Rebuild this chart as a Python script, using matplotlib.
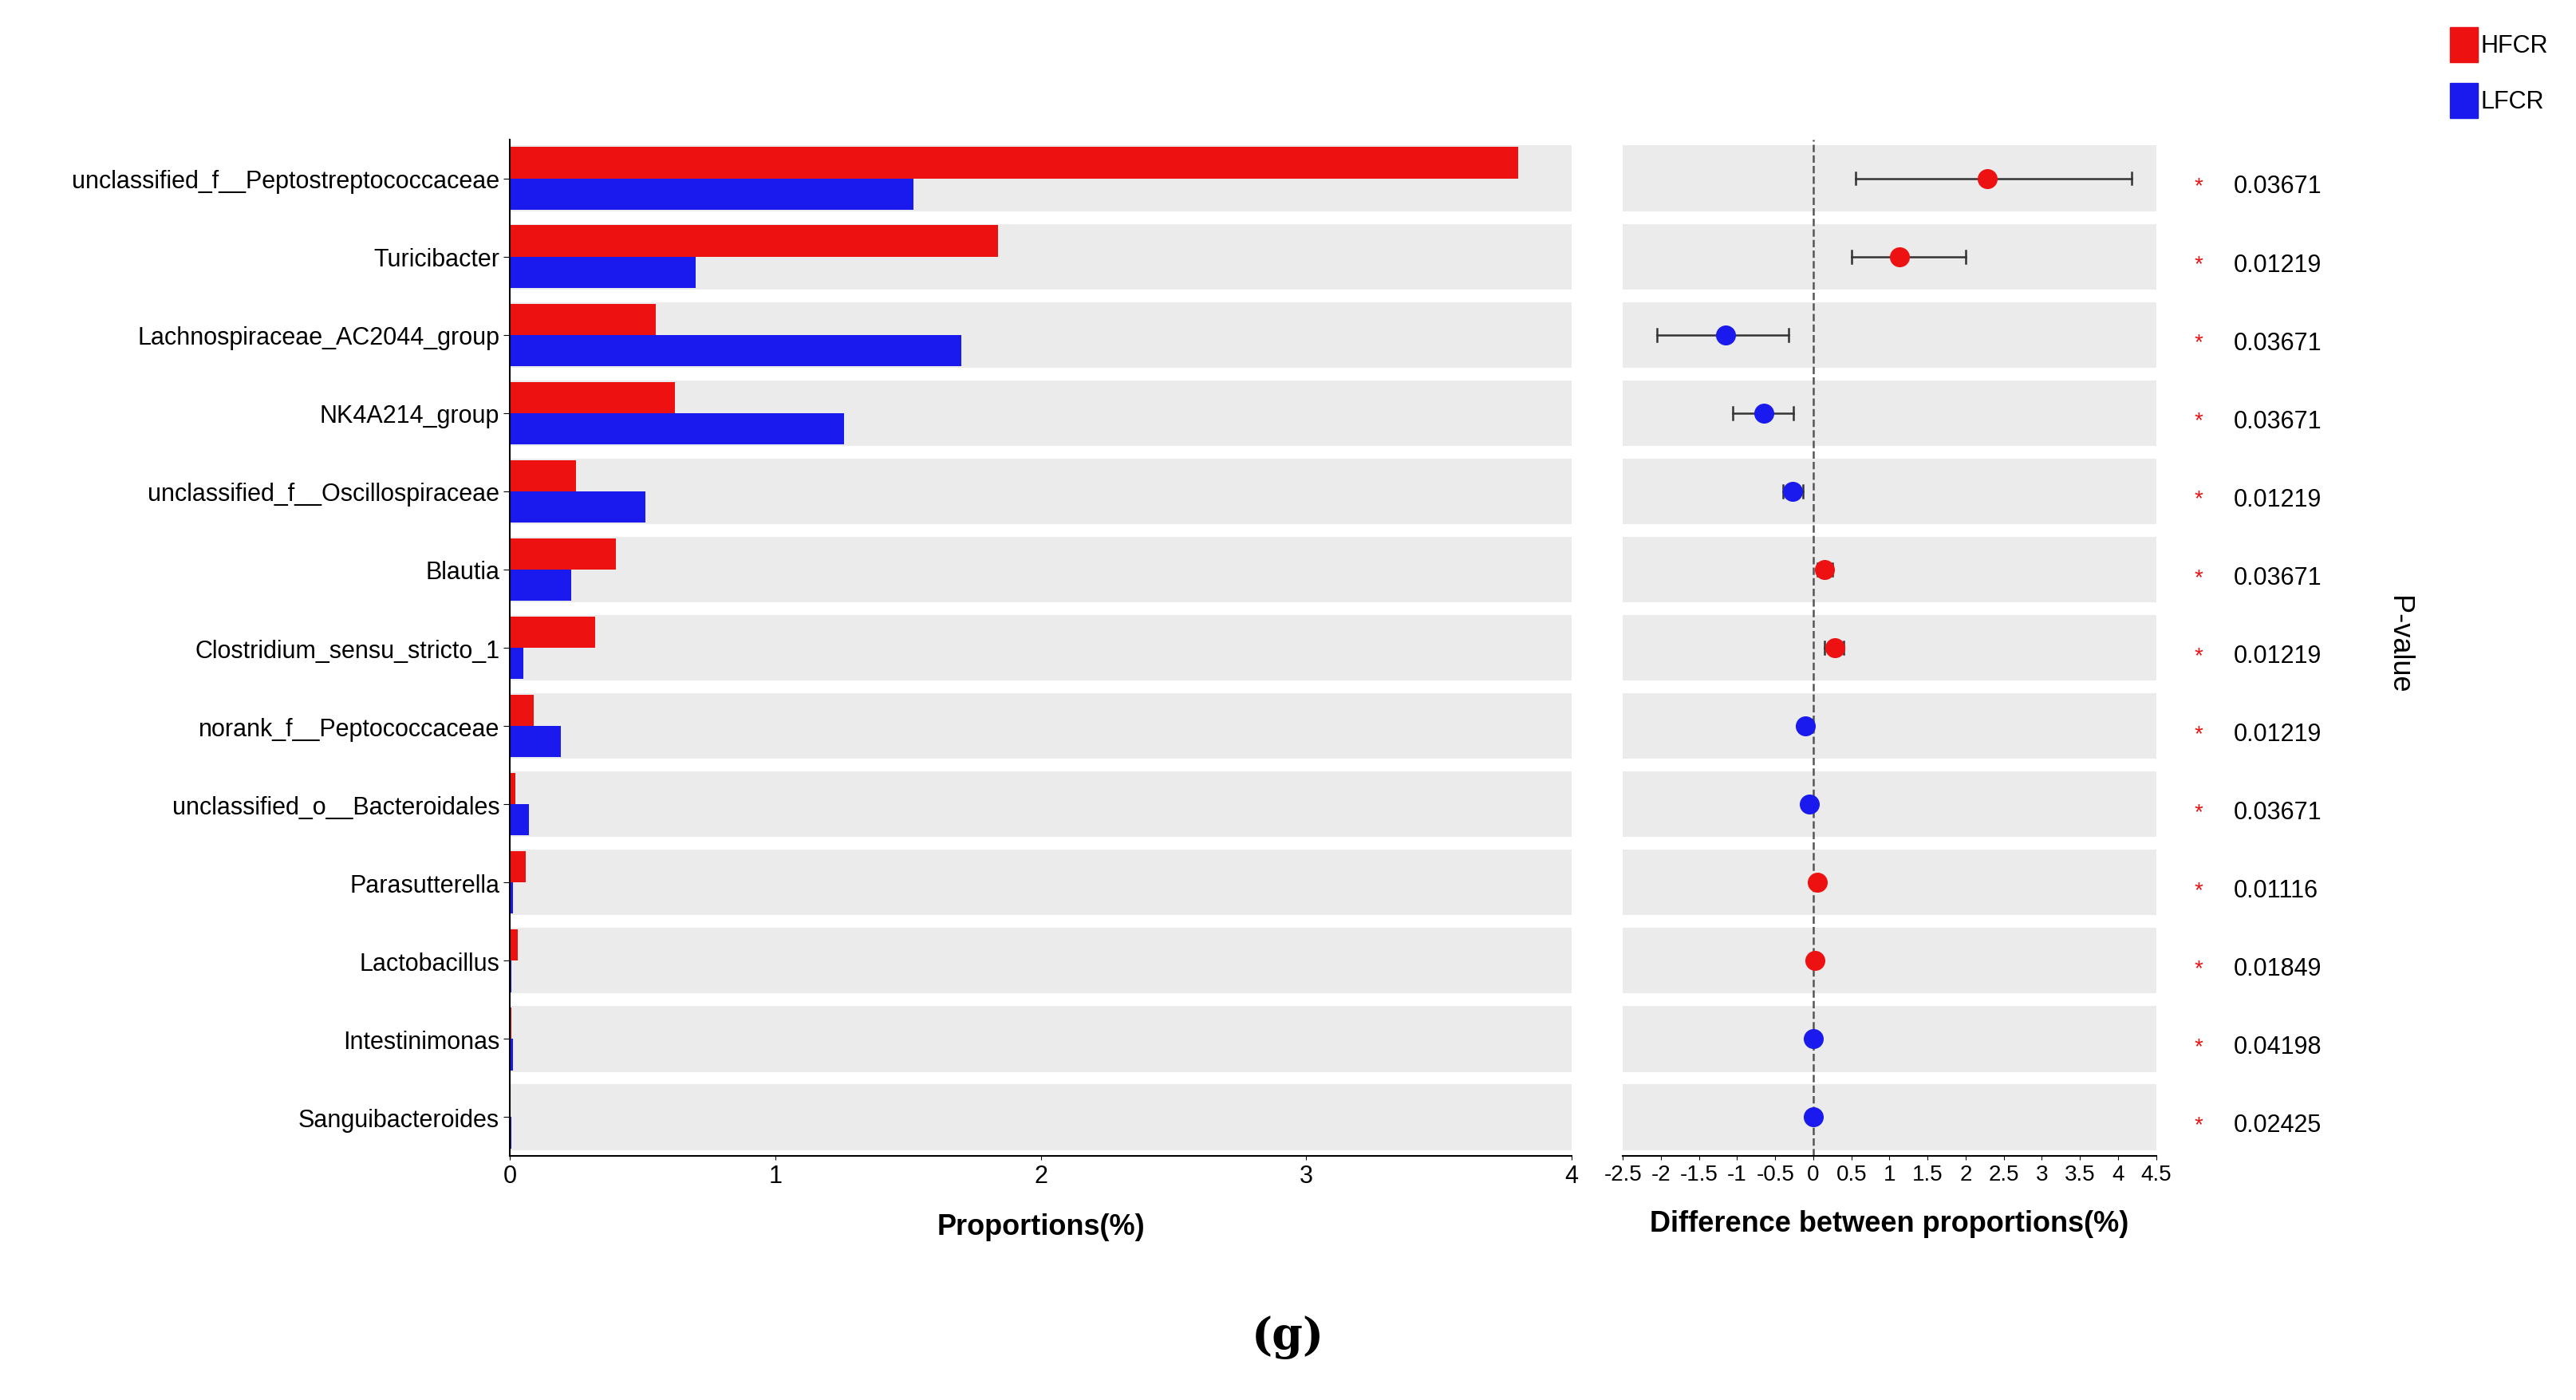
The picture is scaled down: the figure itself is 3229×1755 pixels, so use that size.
import matplotlib
matplotlib.use("Agg")
import matplotlib.pyplot as plt
from matplotlib.patches import Rectangle

plt.rcParams['font.family'] = ['Liberation Sans Narrow', 'Liberation Sans', 'DejaVu Sans']

taxa = ["unclassified_f__Peptostreptococcaceae", "Turicibacter", "Lachnospiraceae_AC2044_group",
        "NK4A214_group", "unclassified_f__Oscillospiraceae", "Blautia", "Clostridium_sensu_stricto_1",
        "norank_f__Peptococcaceae", "unclassified_o__Bacteroidales", "Parasutterella", "Lactobacillus",
        "Intestinimonas", "Sanguibacteroides"]
hfcr = [3.80, 1.84, 0.55, 0.62, 0.25, 0.40, 0.32, 0.09, 0.02, 0.06, 0.03, 0.005, 0.003]
lfcr = [1.52, 0.70, 1.70, 1.26, 0.51, 0.23, 0.05, 0.19, 0.07, 0.01, 0.005, 0.01, 0.005]
diff = [2.28, 1.13, -1.15, -0.65, -0.27, 0.15, 0.28, -0.10, -0.05, 0.05, 0.02, 0.0, 0.0]
ci_low = [0.56, 0.50, -2.05, -1.06, -0.40, 0.05, 0.15, -0.18, -0.12, 0.00, -0.01, -0.02, -0.02]
ci_high = [4.18, 2.00, -0.32, -0.26, -0.14, 0.25, 0.40, -0.02, 0.02, 0.10, 0.05, 0.02, 0.02]
pvals = ["0.03671", "0.01219", "0.03671", "0.03671", "0.01219", "0.03671", "0.01219",
         "0.01219", "0.03671", "0.01116", "0.01849", "0.04198", "0.02425"]

RED, BLUE, GREY = "#ee1111", "#1a1aee", "#ebebeb"
fig = plt.figure(figsize=(32.29, 17.56), dpi=100)
n = len(taxa)

ax = fig.add_axes([0.198, 0.174, 0.412, 0.726])
ax.set_xlim(0, 4); ax.set_ylim(n - 0.5, -0.5)
for i in range(n):
    ax.add_patch(Rectangle((0, i - 0.42), 4, 0.84, color=GREY, zorder=0, lw=0))
ys = range(n)
ax.barh([y - 0.2 for y in ys], hfcr, height=0.4, color=RED, zorder=2)
ax.barh([y + 0.2 for y in ys], lfcr, height=0.4, color=BLUE, zorder=2)
ax.set_yticks(list(ys)); ax.set_yticklabels(taxa, fontsize=22)
ax.set_xticks([0, 1, 2, 3, 4]); ax.tick_params(axis='x', labelsize=22)
ax.set_xlabel("Proportions(%)", fontsize=26, fontweight='bold', labelpad=22)
for s in ['top', 'right', 'left']:
    ax.spines[s].set_visible(False)
ax.spines['bottom'].set_linewidth(1.5)
ax.plot([0, 0], [-0.5, n - 0.5], color='black', lw=1.5, clip_on=False)
ax.tick_params(axis='y', length=6)

ax2 = fig.add_axes([0.630, 0.174, 0.207, 0.726])
ax2.set_xlim(-2.5, 4.5); ax2.set_ylim(n - 0.5, -0.5)
for i in range(n):
    ax2.add_patch(Rectangle((-2.5, i - 0.42), 7, 0.84, color=GREY, zorder=0, lw=0))
ax2.axvline(0, color='#555555', ls='--', lw=1.8, zorder=1)
for i in range(n):
    c = RED if diff[i] > 0 else BLUE
    ax2.plot([ci_low[i], ci_high[i]], [i, i], color='#333333', lw=1.8, zorder=2)
    ax2.plot([ci_low[i], ci_low[i]], [i - 0.08, i + 0.08], color='#333333', lw=1.8, zorder=2)
    ax2.plot([ci_high[i], ci_high[i]], [i - 0.08, i + 0.08], color='#333333', lw=1.8, zorder=2)
    ax2.plot(diff[i], i, 'o', color=c, ms=17, zorder=3)
    ax2.text(1.08, i + 0.1, "*", color=RED, fontsize=20, transform=ax2.get_yaxis_transform(), va='center', ha='center')
    ax2.text(1.145, i + 0.1, pvals[i], fontsize=22, transform=ax2.get_yaxis_transform(), va='center', ha='left')
ax2.set_yticks([])
ticks = [-2.5, -2, -1.5, -1, -0.5, 0, 0.5, 1, 1.5, 2, 2.5, 3, 3.5, 4, 4.5]
ax2.set_xticks(ticks)
ax2.set_xticklabels([("%g" % t) for t in ticks], fontsize=20)
ax2.set_xlabel("Difference between proportions(%)", fontsize=26, fontweight='bold', labelpad=22)
for s in ['top', 'right', 'left']:
    ax2.spines[s].set_visible(False)
ax2.spines['bottom'].set_linewidth(1.5)

fig.text(0.931, 0.54, "P-value", rotation=-90, fontsize=26, ha='center', va='center')
fig.patches.append(Rectangle((0.951, 0.955), 0.011, 0.025, color=RED, transform=fig.transFigure))
fig.patches.append(Rectangle((0.951, 0.915), 0.011, 0.025, color=BLUE, transform=fig.transFigure))
fig.text(0.963, 0.967, "HFCR", fontsize=22, va='center')
fig.text(0.963, 0.927, "LFCR", fontsize=22, va='center')
fig.text(0.5, 0.045, "(g)", fontsize=40, fontweight='bold', family='DejaVu Serif', ha='center', va='center')
fig.savefig("out.png", dpi=100)
